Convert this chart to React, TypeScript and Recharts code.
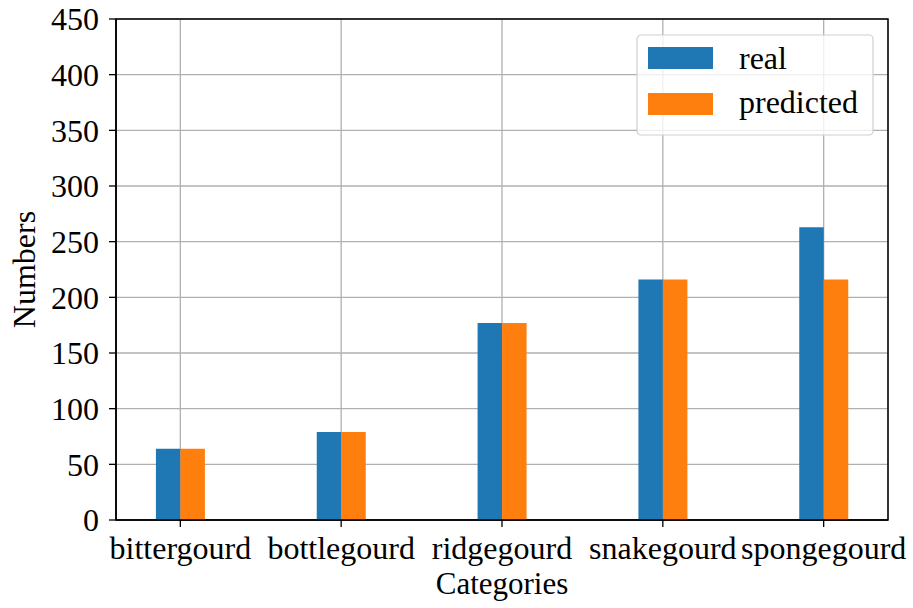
import React from 'react';
import { BarChart, Bar, XAxis, YAxis, CartesianGrid, ReferenceArea, Label } from 'recharts';

const categories = ['bittergourd', 'bottlegourd', 'ridgegourd', 'snakegourd', 'spongegourd'];
const realValues = [64, 79, 177, 216, 263];
const predictedValues = [64, 79, 177, 216, 216];
const yTicks = [0, 50, 100, 150, 200, 250, 300, 350, 400, 450];

const data = categories.map((c, i) => ({ idx: i, name: c, real: realValues[i], predicted: predictedValues[i] }));

const FONT = "'Liberation Serif', 'Times New Roman', serif";
const FS = 32;
const BLUE = '#1f77b4';
const ORANGE = '#ff7f0e';

const LegendBox = () => (
  <svg width={238} height={102} style={{ display: 'block' }}>
    <rect x={1} y={1} width={236} height={100} rx={4} ry={4} fill="rgba(255,255,255,0.8)" stroke="#d0d0d0" strokeWidth={1.2} />
    <rect x={12} y={13} width={65} height={22} fill={BLUE} />
    <rect x={12} y={59} width={65} height={22} fill={ORANGE} />
    <text x={103} y={35} fontFamily={FONT} fontSize={FS} fill="#000">real</text>
    <text x={103} y={79} fontFamily={FONT} fontSize={FS} fill="#000">predicted</text>
  </svg>
);

export default function App() {
  return (
    <div style={{ position: 'absolute', left: 0, top: 0, width: 913, height: 608, background: '#fff' }}>
      <BarChart width={913} height={608} data={data} margin={{ top: 19, right: 25, left: 0, bottom: 0 }} barGap={0}>
        <XAxis
          dataKey="idx"
          type="number"
          domain={[-0.4, 4.4]}
          ticks={[0, 1, 2, 3, 4]}
          tickFormatter={(v: number) => categories[v]}
          interval={0}
          height={88}
          tickSize={7}
          tickMargin={9}
          axisLine={{ stroke: '#000', strokeWidth: 1.5 }}
          tickLine={{ stroke: '#000', strokeWidth: 1.3 }}
          tick={{ fontSize: FS, fontFamily: FONT, fill: '#000' }}
          allowDataOverflow
        >
          <Label value="Categories" position="insideBottom" offset={14} style={{ fontSize: 31, fontFamily: FONT, fill: '#000' }} />
        </XAxis>
        <YAxis
          type="number"
          domain={[0, 450]}
          ticks={yTicks}
          width={116}
          tickSize={7}
          tickMargin={10}
          axisLine={{ stroke: '#000', strokeWidth: 1.5 }}
          tickLine={{ stroke: '#000', strokeWidth: 1.3 }}
          tick={{ fontSize: FS, fontFamily: FONT, fill: '#000' }}
          interval={0}
        >
          <Label
            content={(props: any) => {
              const vb = props.viewBox || {};
              const cx = 35;
              const cy = (vb.y ?? 19) + (vb.height ?? 501) / 2;
              return (
                <text x={cx} y={cy} transform={`rotate(-90, ${cx}, ${cy})`} textAnchor="middle" fontSize={FS} fontFamily={FONT} fill="#000">
                  Numbers
                </text>
              );
            }}
          />
        </YAxis>
        <Bar dataKey="real" name="real" fill={BLUE} barSize={24.5} isAnimationActive={false} />
        <Bar dataKey="predicted" name="predicted" fill={ORANGE} barSize={24.5} isAnimationActive={false} />
        <CartesianGrid stroke="#b0b0b0" strokeWidth={1.3} />
        <ReferenceArea x1={-0.4} x2={4.4} y1={0} y2={450} fill="none" stroke="#000" strokeWidth={1.5} ifOverflow="visible" />
      </BarChart>
      <div style={{ position: 'absolute', left: 636, top: 34 }}>
        <LegendBox />
      </div>
    </div>
  );
}
